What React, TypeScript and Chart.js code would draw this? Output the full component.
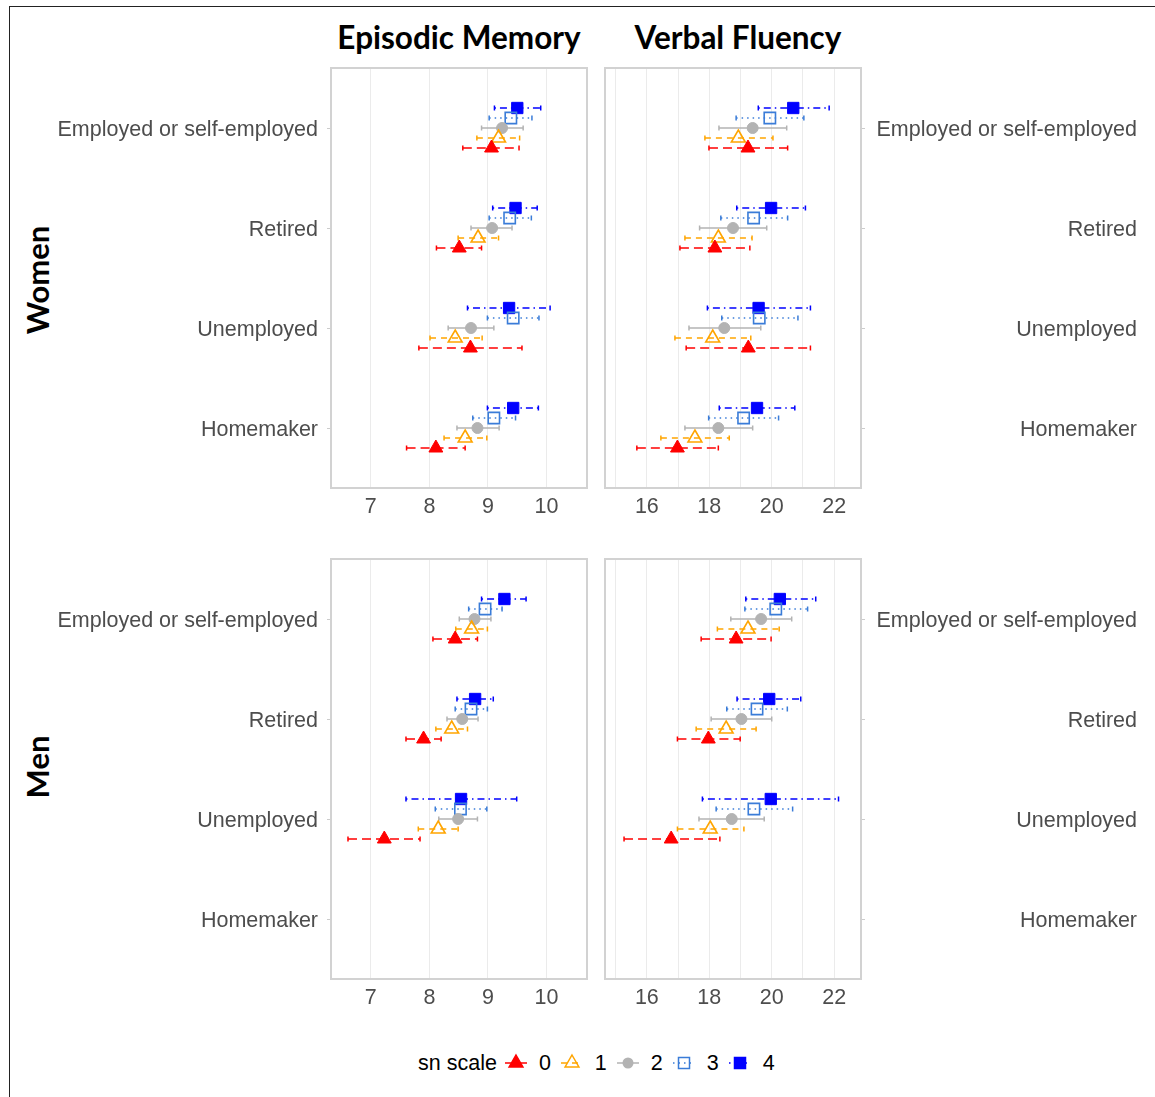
import React, { useEffect, useRef } from 'react';
import { Chart, registerables } from 'chart.js';

Chart.register(...registerables);

const categories = ['Employed or self-employed', 'Retired', 'Unemployed', 'Homemaker'];
const snLevels = ['0', '1', '2', '3', '4'];
const episodicTicks = [7, 8, 9, 10];
const verbalGridValues = [15, 16, 17, 18, 19, 20, 21, 22];
const verbalTickLabels = [16, 18, 20, 22];

// rows: sn scale 0..4 ; columns: categories
const womenEpisodicMean = [
  [9.06, 8.51, 8.70, 8.11],
  [9.18, 8.83, 8.44, 8.61],
  [9.24, 9.07, 8.71, 8.82],
  [9.39, 9.37, 9.43, 9.10],
  [9.50, 9.47, 9.36, 9.43],
];
const womenEpisodicLow = [
  [8.57, 8.12, 7.82, 7.61],
  [8.81, 8.49, 8.01, 8.25],
  [8.89, 8.71, 8.32, 8.47],
  [9.02, 9.02, 8.99, 8.74],
  [9.11, 9.08, 8.65, 8.99],
];
const womenEpisodicHigh = [
  [9.53, 8.89, 9.58, 8.61],
  [9.54, 9.18, 8.90, 8.98],
  [9.60, 9.41, 9.10, 9.19],
  [9.75, 9.74, 9.87, 9.47],
  [9.90, 9.84, 10.06, 9.86],
];

const womenVerbalMean = [
  [19.24, 18.18, 19.25, 16.98],
  [18.93, 18.29, 18.11, 17.54],
  [19.39, 18.76, 18.48, 18.29],
  [19.94, 19.42, 19.60, 19.10],
  [20.69, 19.98, 19.58, 19.53],
];
const womenVerbalLow = [
  [17.99, 17.06, 17.26, 15.68],
  [17.86, 17.22, 16.90, 16.45],
  [18.31, 17.69, 17.35, 17.22],
  [18.86, 18.37, 18.40, 17.98],
  [19.57, 18.88, 17.94, 18.32],
];
const womenVerbalHigh = [
  [20.51, 19.30, 21.24, 18.29],
  [20.04, 19.37, 19.33, 18.64],
  [20.48, 19.84, 19.65, 19.39],
  [21.03, 20.51, 20.84, 20.22],
  [21.84, 21.08, 21.24, 20.74],
];

const menEpisodicMean = [
  [8.44, 7.90, 7.23, null],
  [8.72, 8.38, 8.15, null],
  [8.77, 8.56, 8.49, null],
  [8.95, 8.71, 8.53, null],
  [9.28, 8.78, 8.54, null],
];
const menEpisodicLow = [
  [8.06, 7.60, 6.61, null],
  [8.45, 8.11, 7.81, null],
  [8.51, 8.30, 8.16, null],
  [8.67, 8.44, 8.10, null],
  [8.89, 8.47, 7.60, null],
];
const menEpisodicHigh = [
  [8.82, 8.20, 7.84, null],
  [8.99, 8.65, 8.49, null],
  [9.05, 8.83, 8.82, null],
  [9.24, 8.99, 8.98, null],
  [9.65, 9.09, 9.49, null],
];

const menVerbalMean = [
  [18.86, 17.97, 16.78, null],
  [19.24, 18.54, 18.03, null],
  [19.66, 19.03, 18.72, null],
  [20.13, 19.53, 19.43, null],
  [20.26, 19.92, 19.97, null],
];
const menVerbalLow = [
  [17.74, 16.98, 15.27, null],
  [18.26, 17.58, 16.98, null],
  [18.69, 18.06, 17.67, null],
  [19.14, 18.56, 18.22, null],
  [19.17, 18.89, 17.78, null],
];
const menVerbalHigh = [
  [19.98, 18.99, 18.34, null],
  [20.24, 19.50, 19.11, null],
  [20.64, 20.00, 19.76, null],
  [21.15, 20.50, 20.67, null],
  [21.41, 20.93, 22.14, null],
];

const seriesColors = ['#FF0000', '#FFA500', '#B3B3B3', '#3A7CD8', '#0000FF'];
const seriesShapes = ['triangle', 'triangle', 'circle', 'rect', 'rect'];
const seriesFilled = [true, false, true, false, true];
const seriesRadius = [8, 8, 5.5, 8, 8];
const seriesDash = [[9, 5], [6, 5], [], [1.5, 4], [1.5, 4, 7, 4]];

const FONT = "'Liberation Sans', Arial, sans-serif";

const errorBarPlugin = {
  id: 'errorBars',
  beforeDatasetsDraw(chart: any) {
    const { ctx } = chart;
    const xs = chart.scales.x;
    const ys = chart.scales.y;
    ctx.save();
    chart.data.datasets.forEach((ds: any) => {
      ctx.strokeStyle = ds.borderColor;
      ctx.lineWidth = 1.5;
      ds.data.forEach((p: any) => {
        const py = ys.getPixelForValue(p.y);
        const x0 = xs.getPixelForValue(p.lo);
        const x1 = xs.getPixelForValue(p.hi);
        ctx.setLineDash(ds.errDash);
        ctx.beginPath();
        ctx.moveTo(x0, py);
        ctx.lineTo(x1, py);
        ctx.stroke();
        ctx.setLineDash([]);
        ctx.beginPath();
        ctx.moveTo(x0, py - 2.5);
        ctx.lineTo(x0, py + 2.5);
        ctx.moveTo(x1, py - 2.5);
        ctx.lineTo(x1, py + 2.5);
        ctx.stroke();
      });
    });
    ctx.restore();
  },
};

const borderPlugin = {
  id: 'panelBorder',
  afterDraw(chart: any) {
    const { ctx, chartArea } = chart;
    ctx.save();
    ctx.strokeStyle = '#D2D2D2';
    ctx.lineWidth = 2;
    ctx.strokeRect(chartArea.left, chartArea.top, chartArea.right - chartArea.left, chartArea.bottom - chartArea.top);
    ctx.restore();
  },
};

function zeroPadding(scale: any) {
  scale.paddingTop = 0;
  scale.paddingBottom = 0;
  scale.paddingLeft = 0;
  scale.paddingRight = 0;
}

type PanelProps = {
  mean: (number | null)[][];
  low: (number | null)[][];
  high: (number | null)[][];
  xMin: number;
  xMax: number;
  gridValues: number[];
  labelValues: number[];
  side: 'left' | 'right';
  left: number;
  top: number;
};

function Panel({ mean, low, high, xMin, xMax, gridValues, labelValues, side, left, top }: PanelProps) {
  const ref = useRef<HTMLCanvasElement>(null);
  const width = side === 'left' ? 580 : 555;
  const height = 468;
  useEffect(() => {
    if (!ref.current) return;
    const datasets = snLevels.map((lvl, k) => {
      const pts: any[] = [];
      categories.forEach((_, c) => {
        const m = mean[k][c];
        if (m === null || m === undefined) return;
        pts.push({ x: m, y: c + (2 - k) * 0.1, lo: low[k][c], hi: high[k][c] });
      });
      return {
        label: lvl,
        data: pts,
        borderColor: seriesColors[k],
        backgroundColor: seriesFilled[k] ? seriesColors[k] : 'rgba(0,0,0,0)',
        pointStyle: seriesShapes[k],
        pointRadius: seriesRadius[k],
        pointBorderWidth: seriesFilled[k] ? 1 : 1.6,
        errDash: seriesDash[k],
        showLine: false,
      } as any;
    });
    const chart = new Chart(ref.current, {
      type: 'scatter',
      data: { datasets },
      plugins: [errorBarPlugin, borderPlugin],
      options: {
        animation: false,
        responsive: false,
        events: [],
        layout: {
          autoPadding: false,
          padding: side === 'left' ? { top: 8, left: 0, right: 3, bottom: 0 } : { top: 8, left: 5, right: 18, bottom: 0 },
        },
        plugins: { legend: { display: false }, tooltip: { enabled: false } },
        scales: {
          x: {
            type: 'linear',
            min: xMin,
            max: xMax,
            position: 'bottom',
            afterBuildTicks: (scale: any) => {
              scale.ticks = gridValues.map((v) => ({ value: v }));
            },
            afterFit: (scale: any) => {
              scale.height = 40;
              zeroPadding(scale);
            },
            grid: { color: '#EBEBEB', lineWidth: 1, drawTicks: false },
            border: { display: false },
            ticks: {
              autoSkip: false,
              maxRotation: 0,
              padding: 6,
              color: '#4D4D4D',
              font: { family: FONT, size: 21.5 },
              callback: (v: any) => (labelValues.includes(Number(v)) ? String(v) : ''),
            },
          },
          y: {
            type: 'linear',
            min: -0.6,
            max: 3.6,
            reverse: true,
            position: side,
            afterBuildTicks: (scale: any) => {
              scale.ticks = categories.map((_, i) => ({ value: i }));
            },
            afterFit: (scale: any) => {
              scale.width = side === 'left' ? 321 : 276;
              zeroPadding(scale);
            },
            grid: { drawOnChartArea: false, drawTicks: true, tickLength: 4, tickColor: '#CCCCCC' },
            border: { display: false },
            ticks: {
              autoSkip: false,
              padding: side === 'left' ? 9 : 12,
              labelOffset: 2,
              crossAlign: side === 'left' ? 'near' : 'far',
              color: '#4D4D4D',
              font: { family: FONT, size: 21.5 },
              callback: (v: any) => categories[Number(v)],
            },
          },
        },
      } as any,
    });
    return () => chart.destroy();
  }, []);
  return (
    <canvas
      ref={ref}
      width={width}
      height={height}
      style={{ position: 'absolute', left, top, width, height }}
    />
  );
}

function LegendKey({ k }: { k: number }) {
  const c = seriesColors[k];
  const dash = seriesDash[k].join(' ');
  let shape: any = null;
  if (seriesShapes[k] === 'triangle') {
    shape = (
      <polygon
        points="11,3 17.9,15 4.1,15"
        fill={seriesFilled[k] ? c : 'none'}
        stroke={c}
        strokeWidth={1.5}
      />
    );
  } else if (seriesShapes[k] === 'circle') {
    shape = <circle cx={11} cy={11} r={5.5} fill={c} />;
  } else {
    shape = (
      <rect x={5.5} y={5.5} width={11} height={11} fill={seriesFilled[k] ? c : 'none'} stroke={c} strokeWidth={1.5} />
    );
  }
  return (
    <svg width={22} height={22} style={{ display: 'block' }}>
      <line x1={0} y1={11} x2={22} y2={11} stroke={c} strokeWidth={1.5} strokeDasharray={dash || undefined} />
      {shape}
    </svg>
  );
}

export default function App() {
  const titleStyle: any = {
    position: 'absolute',
    top: 19,
    width: 400,
    textAlign: 'center',
    fontFamily: "Lato, 'Noto Sans', sans-serif",
    fontWeight: 700,
    fontSize: 31.5,
    lineHeight: '36px',
    color: '#000',
  };
  const stripStyle: any = {
    position: 'absolute',
    width: 200,
    height: 40,
    lineHeight: '40px',
    textAlign: 'center',
    fontFamily: "Lato, 'Noto Sans', sans-serif",
    fontWeight: 700,
    fontSize: 31,
    color: '#000',
    transform: 'rotate(-90deg)',
  };
  return (
    <div style={{ position: 'absolute', left: 0, top: 0, width: 1155, height: 1097, overflow: 'hidden', background: '#fff' }}>
      <div style={{ position: 'absolute', left: 9, top: 6, width: 2000, height: 2000, border: '1.5px solid #222' }} />
      <div style={{ ...titleStyle, left: 459 - 200 }}>Episodic Memory</div>
      <div style={{ ...titleStyle, left: 738 - 200 }}>Verbal Fluency</div>
      <div style={{ ...stripStyle, left: 37 - 100, top: 280 - 20 }}>Women</div>
      <div style={{ ...stripStyle, left: 37 - 100, top: 767 - 20 }}>Men</div>
      <Panel mean={womenEpisodicMean} low={womenEpisodicLow} high={womenEpisodicHigh} xMin={6.32} xMax={10.69}
        gridValues={episodicTicks} labelValues={episodicTicks} side="left" left={10} top={60} />
      <Panel mean={womenVerbalMean} low={womenVerbalLow} high={womenVerbalHigh} xMin={14.66} xMax={22.86}
        gridValues={verbalGridValues} labelValues={verbalTickLabels} side="right" left={600} top={60} />
      <Panel mean={menEpisodicMean} low={menEpisodicLow} high={menEpisodicHigh} xMin={6.32} xMax={10.69}
        gridValues={episodicTicks} labelValues={episodicTicks} side="left" left={10} top={551} />
      <Panel mean={menVerbalMean} low={menVerbalLow} high={menVerbalHigh} xMin={14.66} xMax={22.86}
        gridValues={verbalGridValues} labelValues={verbalTickLabels} side="right" left={600} top={551} />
      <div
        style={{
          position: 'absolute',
          left: 418,
          top: 1050,
          height: 26,
          display: 'flex',
          alignItems: 'center',
          fontFamily: FONT,
          fontSize: 21.5,
          color: '#000',
        }}
      >
        <span style={{ marginRight: 8 }}>sn scale</span>
        {snLevels.map((lvl, k) => (
          <React.Fragment key={lvl}>
            <LegendKey k={k} />
            <span style={{ marginLeft: 12, marginRight: 10 }}>{lvl}</span>
          </React.Fragment>
        ))}
      </div>
    </div>
  );
}
